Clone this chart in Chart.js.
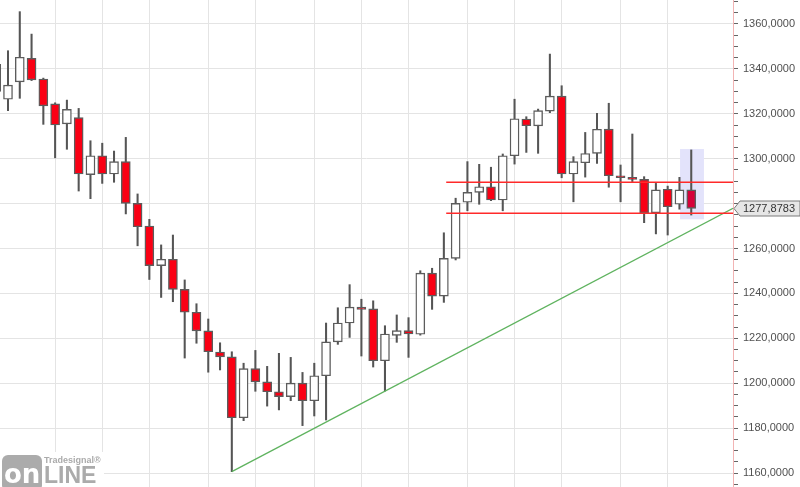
<!DOCTYPE html>
<html><head><meta charset="utf-8">
<script src="https://cdn.jsdelivr.net/npm/chart.js@4.4.1/dist/chart.umd.min.js"></script>
<style>html,body{margin:0;padding:0;background:#fff;}#wrap{width:800px;height:487px;position:relative;}</style>
</head><body><div id="wrap"><canvas id="c"></canvas></div>
<script>
// ---- data (weekly candles, index -1 is cut off at the left edge) ----
const firstIndex = -1;
const opens  = [1342,1326.5,1334.2,1344.7,1335.5,1324.4,1315.5,1318.3,1292.9,1301.3,1293.2,1298.7,1280.1,1270.0,1252.4,1255.2,1241.8,1231.6,1223.3,1213.9,1211.7,1184.6,1206.5,1200.6,1196.2,1194.0,1200.0,1192.2,1203.3,1218.4,1226.8,1233.9,1233.1,1210.0,1221.3,1223.4,1221.8,1249.0,1238.8,1255.6,1280.6,1285.0,1287.5,1281.6,1301.3,1317.7,1314.6,1321.2,1327.9,1293.2,1298.2,1302.4,1313.2,1292.4,1291.7,1290.8,1275.9,1286.4,1279.7,1286.1];
const highs  = [1347.7,1348.1,1365.5,1355.5,1335.9,1324.9,1326.1,1322.4,1308.0,1306.9,1303.4,1309.5,1284.3,1273.0,1261.6,1266.0,1246.0,1235.4,1228.6,1218.0,1214.0,1208.9,1214.6,1207.5,1213.3,1211.5,1204.8,1208.9,1226.8,1233.6,1243.9,1237.4,1236.7,1225.6,1230.4,1229.2,1250.1,1251.2,1267.0,1282.4,1298.7,1297.5,1296.2,1302.1,1326.5,1318.7,1322.1,1346.6,1332.5,1300.9,1311.7,1320.2,1324.7,1297.2,1311.0,1292.0,1289.0,1287.8,1291.7,1303.9];
const lows   = [1325.4,1321.4,1326.9,1334.8,1315.3,1300.4,1304.2,1285.6,1282.2,1289.0,1289.5,1275.4,1261.2,1246.2,1238.2,1236.3,1211.2,1217.8,1204.9,1205.9,1160.6,1183.3,1196.4,1189.8,1188.1,1192.2,1181.1,1185.4,1183.6,1217.3,1220.4,1212.1,1207.2,1196.5,1218.2,1211.5,1221.4,1232.9,1236.0,1254.9,1276.8,1279.7,1281.3,1276.8,1297.6,1302.8,1302.4,1320.5,1291.5,1280.8,1291.8,1297.9,1287.3,1280.8,1289.8,1271.5,1266.5,1266.0,1277.5,1274.9];
const closes = [1330,1332.8,1345.2,1335.1,1323.5,1315.0,1322.0,1293.2,1301.3,1293.2,1298.7,1280.1,1269.7,1252.4,1255.2,1241.8,1231.6,1223.3,1214.0,1211.7,1184.6,1206.5,1200.6,1196.2,1194.0,1200.0,1192.2,1203.3,1218.4,1226.8,1233.9,1232.9,1210.0,1221.9,1223.4,1221.9,1249.0,1238.8,1255.6,1280.1,1285.0,1287.5,1281.6,1301.3,1317.8,1314.7,1321.4,1327.9,1293.2,1298.7,1302.3,1313.1,1292.4,1291.5,1290.8,1275.9,1286.1,1278.6,1286.1,1277.8783];
const monthStartIdx = [4,8,12,17,21,26,30,34,39,43,47,52,56];
const levelValues = [1289.5, 1275.7];
const levelStartIdx = 37.2;
const trendIdx = [19, 61.545];
const trendValues = [1160.6, 1277.8783];
const highlightIdx = [57.05, 59.08];
const highlightValues = [1273.0, 1304.3];
const lastPrice = 1277.8783;
const yRange = [1153.764, 1370.69];
const xRange = [-0.679, 61.545];
const yLabelStep = 20, yMinorStep = 5;

const RED = '#fa0014', LAST_RED = '#d6003a';
const idx = opens.map((_, i) => i + firstIndex);
const lastI = opens.length - 1;

const wickData = idx.map((x, i) => ({x, y: [lows[i], highs[i]]}));
const bodyData = idx.map((x, i) => ({x, y: [opens[i], closes[i]]}));
const bodyColors = idx.map((x, i) => closes[i] >= opens[i] ? '#ffffff' : (i === lastI ? LAST_RED : RED));

const fmt = v => v.toFixed(4).replace('.', ',');

const highlightPlugin = {
  id: 'highlight',
  beforeDatasetsDraw(chart) {
    const {ctx, scales: {x, y}} = chart;
    const x0 = x.getPixelForValue(highlightIdx[0]), x1 = x.getPixelForValue(highlightIdx[1]);
    const y0 = y.getPixelForValue(highlightValues[1]), y1 = y.getPixelForValue(highlightValues[0]);
    ctx.save();
    ctx.fillStyle = '#e3e3fb';
    ctx.fillRect(x0, y0, x1 - x0, y1 - y0);
    ctx.restore();
  }
};

const overlayPlugin = {
  id: 'overlay',
  afterDraw(chart) {
    const {ctx, scales: {y}} = chart;
    const py = Math.round(y.getPixelForValue(lastPrice)) + 0.5;
    const left = y.left + 1;
    ctx.save();
    ctx.beginPath();
    ctx.moveTo(left, py);
    ctx.lineTo(left + 6, py - 7.5);
    ctx.lineTo(800, py - 7.5);
    ctx.lineTo(800, py + 7.5);
    ctx.lineTo(left + 6, py + 7.5);
    ctx.closePath();
    ctx.fillStyle = '#e6e6e6';
    ctx.fill();
    ctx.strokeStyle = '#7a7a7a';
    ctx.lineWidth = 1;
    ctx.stroke();
    ctx.fillStyle = '#333';
    ctx.font = '11px "Liberation Sans"';
    ctx.textBaseline = 'middle';
    ctx.fillText(fmt(lastPrice), left + 9, py + 0.5);

    // logo
    ctx.fillStyle = '#fff';
    ctx.fillRect(0, 452, 104, 35);
    ctx.fillStyle = '#ababab';
    ctx.beginPath();
    if (ctx.roundRect) ctx.roundRect(2, 455, 40, 36, 6); else ctx.rect(2, 455, 40, 36);
    ctx.fill();
    ctx.fillStyle = '#fff';
    ctx.font = 'bold 26px "DejaVu Sans"';
    ctx.textBaseline = 'alphabetic';
    ctx.fillText('on', 4, 483);
    ctx.fillStyle = '#ababab';
    ctx.font = 'bold 23px "Liberation Sans"';
    ctx.fillText('LINE', 44, 483);
    ctx.font = 'bold 9px "Liberation Sans"';
    ctx.fillText('Tradesignal\u00AE', 44, 463);
    ctx.restore();
  }
};

new Chart(document.getElementById('c'), {
  type: 'bar',
  data: {
    datasets: [
      {type: 'line', data: [{x: levelStartIdx, y: levelValues[0]}, {x: xRange[1], y: levelValues[0]}], borderColor: '#ff2a2a', borderWidth: 1.3, pointRadius: 0, order: -2},
      {type: 'line', data: [{x: levelStartIdx, y: levelValues[1]}, {x: xRange[1], y: levelValues[1]}], borderColor: '#ff2a2a', borderWidth: 1.3, pointRadius: 0, order: -2},
      {type: 'line', data: [{x: trendIdx[0], y: trendValues[0]}, {x: trendIdx[1], y: trendValues[1]}], borderColor: '#5fb35f', borderWidth: 1.3, pointRadius: 0, order: -1},
      {label: 'body', data: bodyData, backgroundColor: bodyColors, borderColor: '#5c5c5c', borderWidth: 1.4, borderSkipped: false, barThickness: 9, minBarLength: 2, grouped: false, order: 0},
      {label: 'wick', data: wickData, backgroundColor: '#555555', borderWidth: 0, barThickness: 1.4, grouped: false, order: 1}
    ]
  },
  options: {
    responsive: true, maintainAspectRatio: false, animation: false,
    layout: {padding: 0},
    plugins: {legend: {display: false}, tooltip: {enabled: false}},
    scales: {
      x: {
        type: 'linear', min: xRange[0], max: xRange[1], offset: false,
        grid: {offset: false, color: '#e4e4e4', lineWidth: 1, drawTicks: false},
        border: {display: false},
        ticks: {display: false},
        afterBuildTicks: s => { s.ticks = monthStartIdx.map(v => ({value: v})); },
        afterFit: s => { s.height = 0; s.paddingLeft = 0; s.paddingRight = 0; }
      },
      y: {
        position: 'right', min: yRange[0], max: yRange[1],
        grid: {
          color: c => (c.tick && Math.abs(c.tick.value % yLabelStep) < 1e-6) ? '#e4e4e4' : 'rgba(0,0,0,0)',
          tickColor: '#666', tickLength: 5, lineWidth: 1
        },
        border: {display: true, color: '#f2b4b4', width: 1},
        ticks: {
          stepSize: yMinorStep, includeBounds: false, autoSkip: false, padding: 5,
          color: '#505050', font: {family: '"Liberation Sans"', size: 11},
          callback: v => (Math.abs(v % yLabelStep) < 1e-6 && Math.abs(v - lastPrice) > 8) ? fmt(v) : ''
        },
        afterFit: s => { s.width = 67; s.paddingTop = 0; s.paddingBottom = 0; }
      }
    }
  },
  plugins: [highlightPlugin, overlayPlugin]
});
</script></body></html>
